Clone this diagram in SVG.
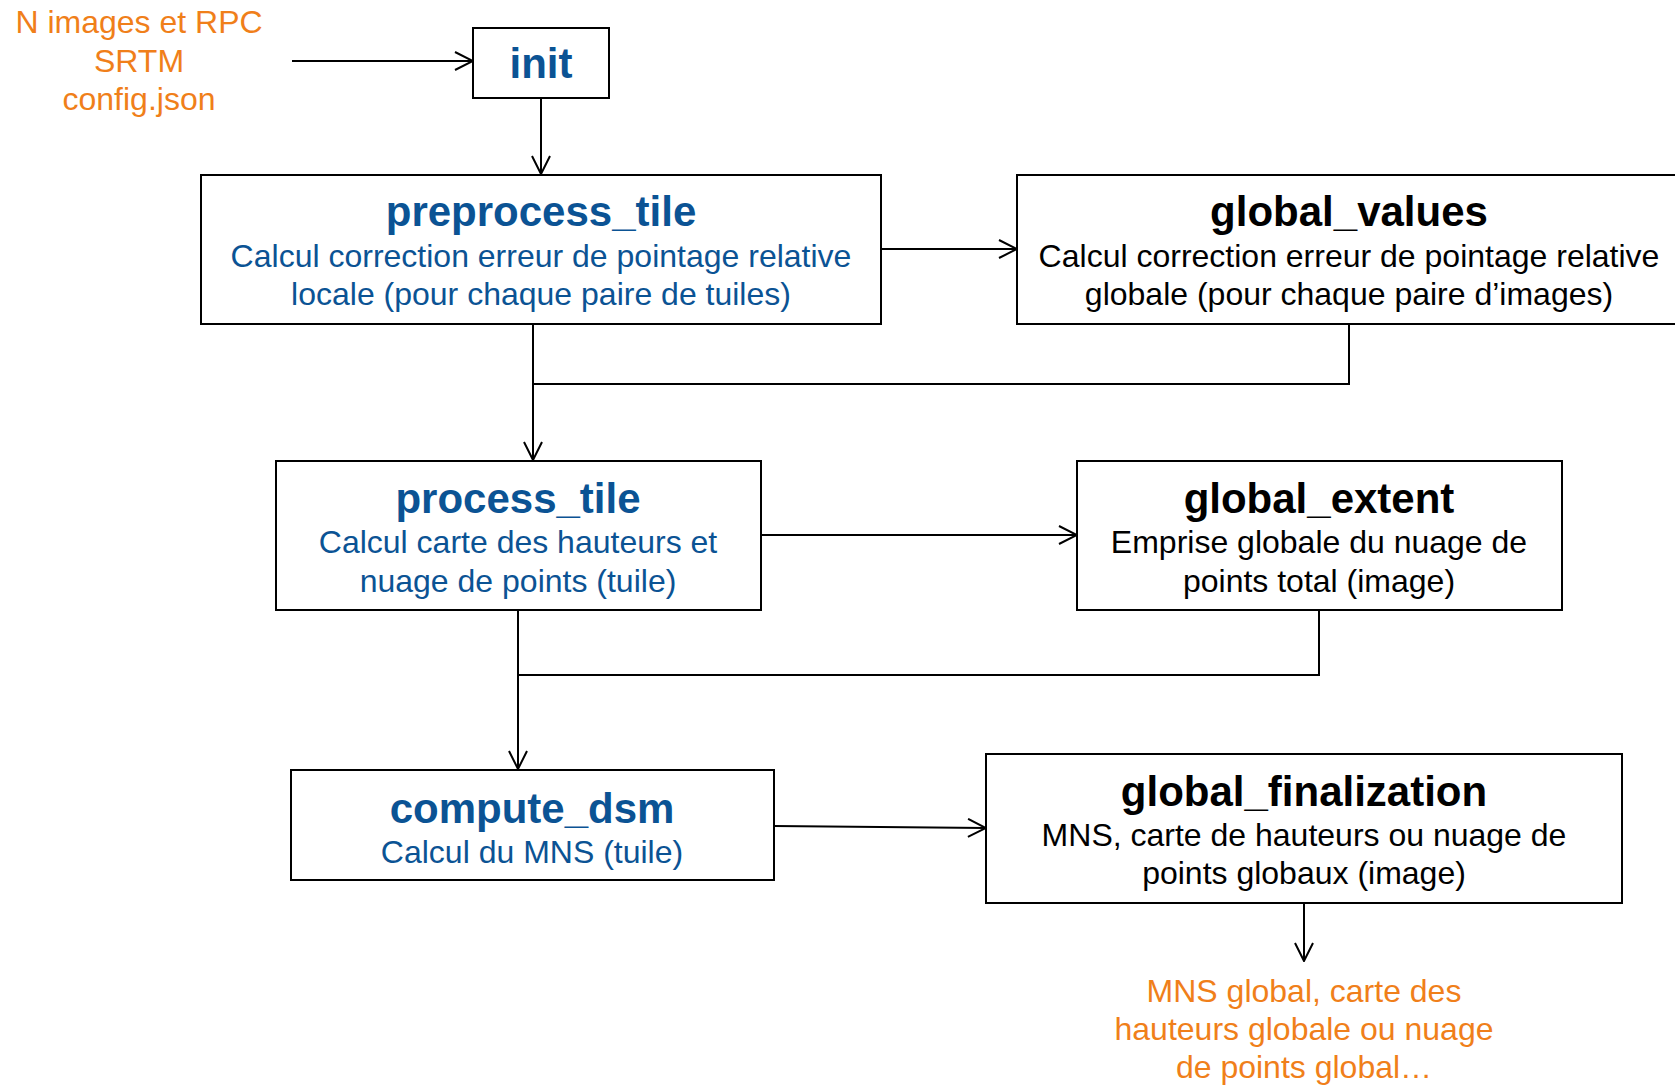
<svg xmlns="http://www.w3.org/2000/svg" width="1675" height="1087" viewBox="0 0 1675 1087">
  <style>
    .box { fill: #ffffff; stroke: #000000; stroke-width: 2; }
    .wire { fill: none; stroke: #000000; stroke-width: 2; }
    .title { font-family: "Liberation Sans", Arial, sans-serif; font-weight: bold; font-size: 42px; text-anchor: middle; }
    .body { font-family: "Liberation Sans", Arial, sans-serif; font-size: 32px; text-anchor: middle; }
    .blue { fill: #0B5394; }
    .black { fill: #000000; }
    .orange { fill: #F07F1A; }
  </style>
  <defs>
    <marker id="arrow" viewBox="0 0 20 20" refX="19" refY="10" markerWidth="20" markerHeight="20" markerUnits="userSpaceOnUse" orient="auto">
      <path d="M1,1 L19,10 L1,19" fill="none" stroke="#000000" stroke-width="2"/>
    </marker>
  </defs>

  <rect width="1675" height="1087" fill="#ffffff"/>

  <!-- inputs -->
  <g id="inputs">
    <text class="body orange" x="139" y="33">N images et RPC</text>
    <text class="body orange" x="139" y="72">SRTM</text>
    <text class="body orange" x="139" y="110">config.json</text>
  </g>

  <g id="init">
    <rect class="box" x="473" y="28" width="136" height="70"/>
    <text class="title blue" x="541" y="78">init</text>
  </g>

  <g id="preprocess_tile">
    <rect class="box" x="201" y="175" width="680" height="149"/>
    <text class="title blue" x="541" y="226">preprocess_tile</text>
    <text class="body blue" x="541" y="267">Calcul correction erreur de pointage relative</text>
    <text class="body blue" x="541" y="305">locale (pour chaque paire de tuiles)</text>
  </g>

  <g id="global_values">
    <rect class="box" x="1017" y="175" width="680" height="149"/>
    <text class="title black" x="1349" y="226">global_values</text>
    <text class="body black" x="1349" y="267">Calcul correction erreur de pointage relative</text>
    <text class="body black" x="1349" y="305">globale (pour chaque paire d’images)</text>
  </g>

  <g id="process_tile">
    <rect class="box" x="276" y="461" width="485" height="149"/>
    <text class="title blue" x="518" y="513">process_tile</text>
    <text class="body blue" x="518" y="553">Calcul carte des hauteurs et</text>
    <text class="body blue" x="518" y="592">nuage de points (tuile)</text>
  </g>

  <g id="global_extent">
    <rect class="box" x="1077" y="461" width="485" height="149"/>
    <text class="title black" x="1319" y="513">global_extent</text>
    <text class="body black" x="1319" y="553">Emprise globale du nuage de</text>
    <text class="body black" x="1319" y="592">points total (image)</text>
  </g>

  <g id="compute_dsm">
    <rect class="box" x="291" y="770" width="483" height="110"/>
    <text class="title blue" x="532" y="823">compute_dsm</text>
    <text class="body blue" x="532" y="863">Calcul du MNS (tuile)</text>
  </g>

  <g id="global_finalization">
    <rect class="box" x="986" y="754" width="636" height="149"/>
    <text class="title black" x="1304" y="806">global_finalization</text>
    <text class="body black" x="1304" y="846">MNS, carte de hauteurs ou nuage de</text>
    <text class="body black" x="1304" y="884">points globaux (image)</text>
  </g>

  <g id="outputs">
    <text class="body orange" x="1304" y="1002">MNS global, carte des</text>
    <text class="body orange" x="1304" y="1040">hauteurs globale ou nuage</text>
    <text class="body orange" x="1304" y="1078">de points global…</text>
  </g>

  <!-- connectors -->
  <g id="connectors">
    <line class="wire" x1="292" y1="61" x2="473" y2="61" marker-end="url(#arrow)"/>
    <line class="wire" x1="541" y1="98" x2="541" y2="174" marker-end="url(#arrow)"/>
    <line class="wire" x1="881" y1="249" x2="1017" y2="249" marker-end="url(#arrow)"/>
    <line class="wire" x1="533" y1="324" x2="533" y2="460" marker-end="url(#arrow)"/>
    <polyline class="wire" points="1349,324 1349,384 533,384"/>
    <line class="wire" x1="761" y1="535" x2="1077" y2="535" marker-end="url(#arrow)"/>
    <line class="wire" x1="518" y1="610" x2="518" y2="769" marker-end="url(#arrow)"/>
    <polyline class="wire" points="1319,610 1319,675 518,675"/>
    <line class="wire" x1="774" y1="826" x2="986" y2="828" marker-end="url(#arrow)"/>
    <line class="wire" x1="1304" y1="903" x2="1304" y2="961" marker-end="url(#arrow)"/>
  </g>
</svg>
